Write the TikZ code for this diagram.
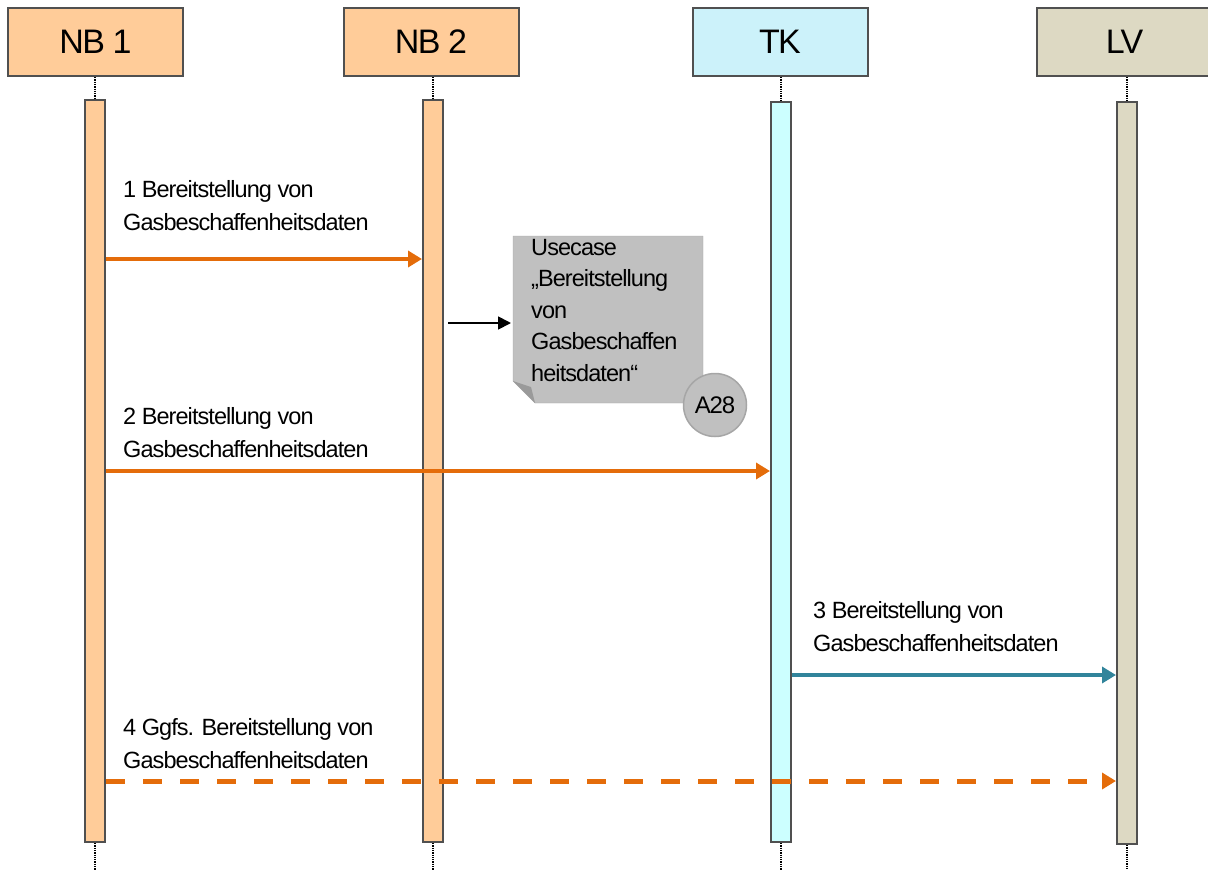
\documentclass[tikz,border=0pt]{standalone}
\usepackage{fontspec}
\setmainfont{Liberation Sans}
\newfontfamily\condfont[LetterSpace=-4]{Liberation Sans}
\newfontfamily\headfont[LetterSpace=-5]{Liberation Sans}
\usetikzlibrary{arrows.meta}
\definecolor{nbfill}{HTML}{FFCC99}
\definecolor{tkhead}{HTML}{CCF2FA}
\definecolor{tkbar}{HTML}{CCFFFF}
\definecolor{lvfill}{HTML}{DDD9C3}
\definecolor{linegray}{HTML}{505050}
\definecolor{msgorange}{HTML}{E46C0A}
\definecolor{msgteal}{HTML}{31849B}
\definecolor{notegray}{HTML}{C0C0C0}
\definecolor{notedraw}{HTML}{A6A6A6}
\definecolor{folddark}{HTML}{9A9A9A}
\begin{document}
\begin{tikzpicture}[x=1pt,y=-1pt,
    head/.style={draw=linegray, line width=2pt, minimum width=175pt, minimum height=68pt, font=\headfont\fontsize{34}{38}\selectfont},
    bar/.style={draw=linegray, line width=2pt, minimum width=20pt, inner sep=0pt},
    life/.style={densely dotted, line width=1.3pt},
    msg/.style={line width=4pt, -{Triangle[length=14pt,width=16pt]}},
    lbl/.style={anchor=base west, align=left, inner sep=0pt, font=\condfont\fontsize{23.5}{33}\selectfont}]
    \useasboundingbox (0,0) rectangle (1208,870);
    % Kopfzeilen
    \node[head, fill=nbfill] (nb1) at (95.5,42) {NB 1};
    \node[head, fill=nbfill] (nb2) at (431,42) {NB 2};
    \node[head, fill=tkhead] (tk) at (780,42) {TK};
    \node[head, fill=lvfill] (lv) at (1124.5,42) {LV};
    % Aktivierungsbalken
    \node[bar, fill=nbfill, minimum height=742pt] (nb1bar) at (95,471) {};
    \node[bar, fill=nbfill, minimum height=742pt] (nb2bar) at (433,471) {};
    \node[bar, fill=tkbar, minimum height=740pt] (tkbar) at (781,472) {};
    \node[bar, fill=lvfill, minimum height=742pt] (lvbar) at (1127,473) {};
    % Lebenslinien
    \foreach \b in {nb1bar,nb2bar,tkbar,lvbar} {
        \coordinate (top) at (\b.north |- 0,77);
        \coordinate (bot) at (\b.south |- 0,870);
        \draw[life] (top) -- (\b.north);
        \draw[life] (\b.south) -- (bot);
    }
    % Nachrichten
    \coordinate (m1) at (0,259);
    \coordinate (m2) at (0,471);
    \coordinate (m3) at (0,675);
    \coordinate (m4) at (0,781);
    \draw[msg, msgorange] (nb1bar.east |- m1) -- (nb2bar.west |- m1);
    \node[lbl] (l1) at (123,230) {1 Bereitstellung von\\Gasbeschaffenheitsdaten};
    \draw[msg, msgorange] (nb1bar.east |- m2) -- (tkbar.west |- m2);
    \node[lbl] (l2) at (123,457) {2 Bereitstellung von\\Gasbeschaffenheitsdaten};
    \draw[msg, msgteal] (tkbar.east |- m3) -- (lvbar.west |- m3);
    \node[lbl] (l3) at (813,651) {3 Bereitstellung von\\Gasbeschaffenheitsdaten};
    \draw[msg, msgorange, line width=5pt, dash pattern=on 19pt off 18pt] (nb1bar.east |- m4) -- (lvbar.west |- m4);
    \node[lbl] (l4) at (123,768) {4 Ggfs. Bereitstellung von\\Gasbeschaffenheitsdaten};
    % Notiz
    \fill[notegray, draw=notedraw] (513,236) -- (703,236) -- (703,403) -- (535,403) -- (513,381) -- cycle;
    \fill[folddark] (513,381) -- (531,387) -- (535,403) -- cycle;
    \node[lbl, font=\condfont\fontsize{23.5}{31.5}\selectfont] (note) at (531,381) {Usecase\\„Bereitstellung\\von\\Gasbeschaffen\\heitsdaten“};
    \coordinate (notein) at (511,323);
    \draw[line width=1.8pt, -{Triangle[length=13pt,width=13pt]}] ([xshift=4pt]nb2bar.east |- notein) -- (notein);
    \node[circle, fill=notegray, draw=notedraw, line width=1.5pt, minimum size=63pt, inner sep=0pt, font=\headfont\fontsize{24}{28}\selectfont] (a28) at (715,405) {A28};
\end{tikzpicture}
\end{document}
